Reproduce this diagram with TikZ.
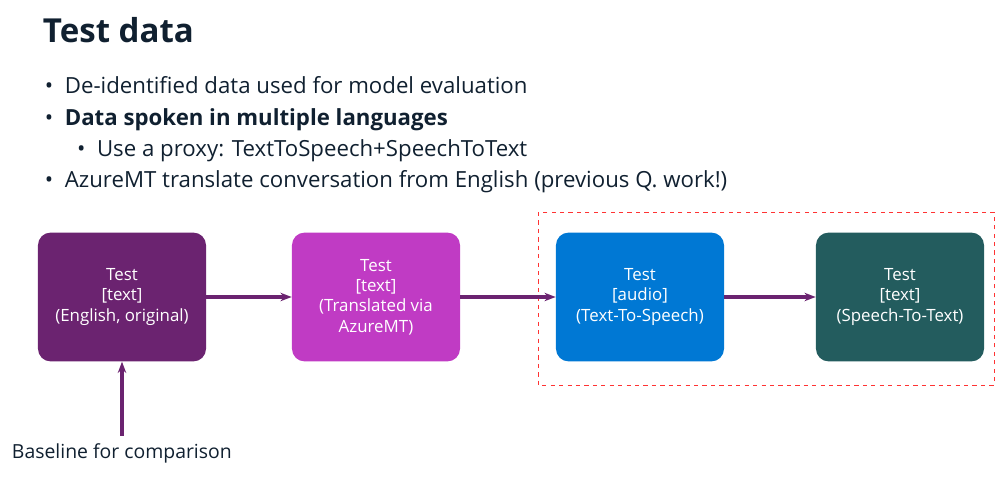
\documentclass[tikz,border=0pt]{standalone}
\usepackage{fontspec}
\setmainfont{Open Sans}
\usetikzlibrary{positioning,arrows.meta}
\definecolor{plum}{HTML}{6B2370}
\definecolor{orchid}{HTML}{C03BC4}
\definecolor{azure}{HTML}{0078D4}
\definecolor{teal}{HTML}{235C5E}
\definecolor{ink}{HTML}{102030}
\begin{document}
\begin{tikzpicture}
        [x=0.025cm,y=-0.025cm,
         stage/.style={rounded corners=9pt,minimum width=4.2cm,minimum height=3.22cm,
                       text=white,align=center,font=\fontsize{12}{14.5}\selectfont},
         flow/.style={draw=plum,line width=2.2pt,-{Stealth[length=8pt]}}]
        \useasboundingbox (0,0) rectangle (999,477);
        \node[anchor=west,text=ink,font=\fontsize{23.5}{28}\selectfont\bfseries](title) at (38,30){Test data};
        \node[anchor=north west,text=ink,align=left,font=\fontsize{15.8}{22.2}\selectfont](list) at (40,72)
            {\textbullet\ \ De-identified data used for model evaluation\\
             \textbullet\ \ \textbf{Data spoken in multiple languages}\\
             \hspace{1.45em}\textbullet\ \ Use a proxy: TextToSpeech+SpeechToText\\
             \textbullet\ \ AzureMT translate conversation from English (previous Q. work!)};
        \node[stage,fill=plum](a) at (122,297){Test\\{[text]}\\(English, original)};
        \node[stage,fill=orchid](b) at (376,297){Test\\{[text]}\\(Translated via\\AzureMT)};
        \node[stage,fill=azure](c) at (640,297){Test\\{[audio]}\\(Text-To-Speech)};
        \node[stage,fill=teal](d) at (900,297){Test\\{[text]}\\(Speech-To-Text)};
        \draw[red!80,dashed,line width=0.6pt] (538,212) rectangle (994,385);
        \node[anchor=west,text=ink,font=\fontsize{13.8}{16}\selectfont](base) at (7,453){Baseline for comparison};
        \coordinate (foot) at (122,436);
        \draw[flow] (a) -- (b);
        \draw[flow] (b) -- (c);
        \draw[flow] (c) -- (d);
        \draw[flow] (foot) -- (a);
\end{tikzpicture}
\end{document}
